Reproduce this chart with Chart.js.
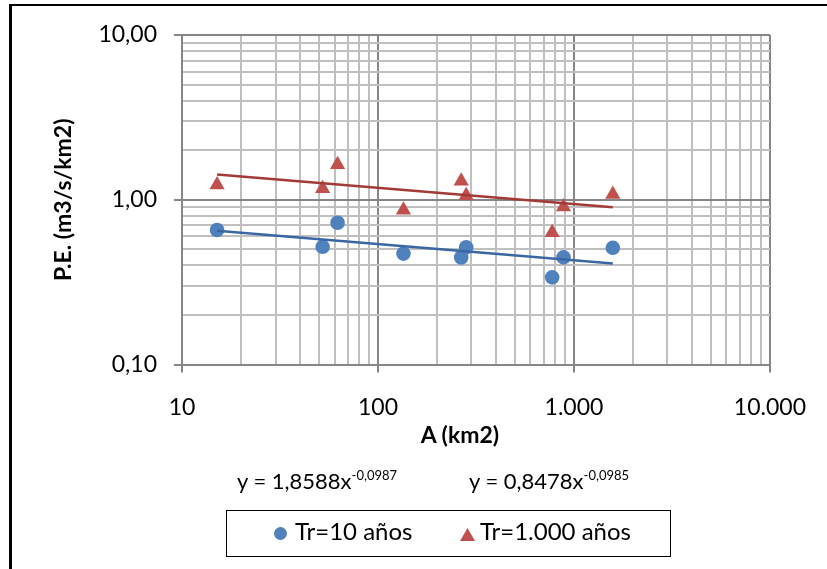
<!DOCTYPE html>
<html>
<head>
<meta charset="utf-8">
<script src="https://cdn.jsdelivr.net/npm/chart.js@4.4.1/dist/chart.umd.min.js"></script>
<style>
  body { margin: 0; background: #fff; }
  #lienzo { position: relative; width: 827px; height: 569px; overflow: hidden; font-family: Lato, sans-serif; color: #000; }
  #marco { position: absolute; left: 9px; top: 4px; width: 900px; height: 700px; border-left: 3px solid #000; border-top: 2px solid #000; }
  #grafico { position: absolute; left: 0; top: 0; }
  .tituloX { position: absolute; left: 360px; width: 200px; top: 421px; text-align: center; font-weight: bold; font-size: 23px; line-height: 27.6px; }
  .ecuacion { position: absolute; top: 468px; font-size: 22px; line-height: 26.4px; white-space: nowrap; }
  .ecuacion sup { font-size: 13px; vertical-align: baseline; position: relative; top: -9px; }
  #leyenda { position: absolute; left: 226px; top: 510px; width: 443px; height: 45px; border: 1.5px solid #000; }
  #leyenda .txt { position: absolute; top: 6px; font-size: 24px; line-height: 28.8px; white-space: nowrap; }
  #leyenda .circulo { position: absolute; left: 47px; top: 16px; width: 13px; height: 13px; border-radius: 50%; background: #4f81bd; }
  #leyenda .triangulo { position: absolute; left: 233px; top: 17px; width: 15px; height: 13px; background: #c0504d; clip-path: polygon(50% 0, 100% 100%, 0 100%); }
</style>
</head>
<body>
<div id="lienzo">
  <div id="marco"></div>
  <canvas id="grafico" width="827" height="569"></canvas>
  <div class="tituloX">A (km2)</div>
  <div class="ecuacion" style="left:237px">y = 1,8588x<sup>-0,0987</sup></div>
  <div class="ecuacion" style="left:469px">y = 0,8478x<sup>-0,0985</sup></div>
  <div id="leyenda">
    <div class="circulo"></div>
    <div class="txt" style="left:68px">Tr=10 años</div>
    <div class="triangulo"></div>
    <div class="txt" style="left:253px">Tr=1.000 años</div>
  </div>
</div>

<script>
// =============================
// DATOS
// =============================
const areas = [15.1, 52.2, 62.2, 134.9, 265.9, 281.8, 774, 884.5, 1579];
const pe10 = [0.655, 0.518, 0.725, 0.471, 0.446, 0.514, 0.338, 0.447, 0.511];
const pe1000 = [1.233, 1.168, 1.636, 0.866, 1.299, 1.060, 0.632, 0.907, 1.078];

// líneas de tendencia (extremos)
const tendenciaX = [15.1, 1579];
const tendencia10 = [0.649, 0.410];
const tendencia1000 = [1.422, 0.899];

// ejes
const decadasX = [10, 100, 1000, 10000];
const etiquetasX = ["10", "100", "1.000", "10.000"];
const decadasY = [0.1, 1, 10];
const etiquetasY = ["0,10", "1,00", "10,00"];

const nombre10 = "Tr=10 años";
const nombre1000 = "Tr=1.000 años";

// =============================
// UTILIDADES
// =============================
function puntos(xs, ys) {
  return xs.map((x, i) => ({ x: x, y: ys[i] }));
}

// marcas 1..9 de cada década
function ticksLog(decadas) {
  const ticks = [];
  for (let i = 0; i < decadas.length - 1; i++) {
    for (let m = 1; m <= 9; m++) {
      ticks.push({ value: Number((m * decadas[i]).toPrecision(6)), major: m === 1 });
    }
  }
  ticks.push({ value: decadas[decadas.length - 1], major: true });
  return ticks;
}

function etiqueta(decadas, etiquetas) {
  return function (value) {
    const i = decadas.findIndex(d => Math.abs(d - value) < d * 1e-6);
    return i >= 0 ? etiquetas[i] : "";
  };
}

const colorGrid = (ctx) => ctx.tick && ctx.tick.major ? "#868686" : "#bfbfbf";
const colorTick = (ctx) => ctx.tick && ctx.tick.major ? "#868686" : "rgba(0,0,0,0)";

// =============================
// GRÁFICO
// =============================
Chart.defaults.font.family = "Lato";
Chart.defaults.color = "#000";

new Chart(document.getElementById("grafico"), {
  type: "scatter",
  data: {
    datasets: [
      {
        label: "tendencia 1000",
        type: "line",
        data: puntos(tendenciaX, tendencia1000),
        borderColor: "#a23b38",
        borderWidth: 2.5,
        pointRadius: 0,
        fill: false
      },
      {
        label: "tendencia 10",
        type: "line",
        data: puntos(tendenciaX, tendencia10),
        borderColor: "#3a67a3",
        borderWidth: 2.5,
        pointRadius: 0,
        fill: false
      },
      {
        label: nombre10,
        data: puntos(areas, pe10),
        pointStyle: "circle",
        pointRadius: 7.3,
        backgroundColor: "#4f81bd",
        borderWidth: 0
      },
      {
        label: nombre1000,
        data: puntos(areas, pe1000),
        pointStyle: "triangle",
        pointRadius: 8.8,
        backgroundColor: "#c0504d",
        borderWidth: 0
      }
    ]
  },
  options: {
    responsive: false,
    animation: false,
    events: [],
    layout: { padding: { top: 35, right: 56, left: 0, bottom: 0 } },
    plugins: {
      legend: { display: false },
      tooltip: { enabled: false }
    },
    scales: {
      x: {
        type: "logarithmic",
        position: "bottom",
        min: decadasX[0],
        max: decadasX[decadasX.length - 1],
        afterBuildTicks: (scale) => { scale.ticks = ticksLog(decadasX); },
        afterFit: (scale) => { scale.height = 204.5; },
        grid: { color: colorGrid, tickColor: colorTick, lineWidth: 2, tickLength: 8 },
        border: { color: "#868686", width: 2 },
        ticks: {
          autoSkip: false,
          maxRotation: 0,
          minRotation: 0,
          padding: 21,
          font: { size: 23 },
          callback: etiqueta(decadasX, etiquetasX)
        }
      },
      y: {
        type: "logarithmic",
        position: "left",
        min: decadasY[0],
        max: decadasY[decadasY.length - 1],
        afterBuildTicks: (scale) => { scale.ticks = ticksLog(decadasY); },
        afterFit: (scale) => { scale.width = 182; },
        grid: { color: colorGrid, tickColor: colorTick, lineWidth: 2, tickLength: 8 },
        border: { color: "#868686", width: 2 },
        title: {
          display: true,
          text: "P.E. (m3/s/km2)",
          font: { size: 23, weight: "bold" },
          padding: { top: 50, bottom: 0 }
        },
        ticks: {
          autoSkip: false,
          padding: 17,
          font: { size: 23 },
          callback: etiqueta(decadasY, etiquetasY)
        }
      }
    }
  }
});
</script>
</body>
</html>
